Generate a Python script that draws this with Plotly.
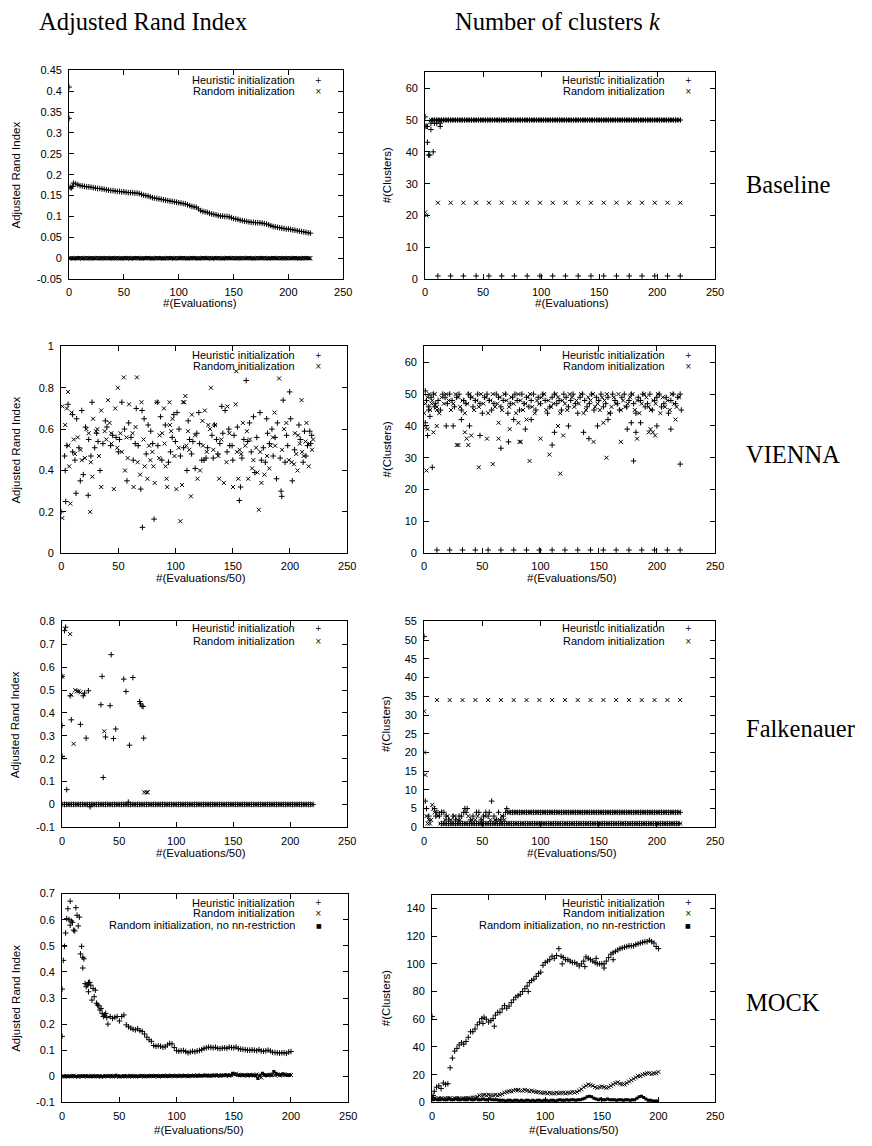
import plotly.graph_objects as go

# ---------------- DATA ----------------
X_TICKS = [0, 50, 100, 150, 200, 250]
X_TICK_TEXT = ["0", "50", "100", "150", "200", "250"]
SPARSE_X = [11, 22, 33, 44, 55, 66, 77, 88, 99, 110, 121, 132, 143, 154, 165, 176, 187, 198, 209, 220]

# --- Baseline, ARI ---
b_ari_heur_init_x = [0, 0, 1, 2, 3]
b_ari_heur_init_y = [0.41, 0.335, 0.170, 0.168, 0.172]
b_ari_heur_dense = [  # x = 4..220 step 2
    0.180, 0.178, 0.176, 0.174, 0.173, 0.172, 0.171, 0.171, 0.170, 0.169,
    0.168, 0.167, 0.167, 0.166, 0.165, 0.164, 0.163, 0.162, 0.162, 0.161,
    0.160, 0.160, 0.159, 0.159, 0.158, 0.157, 0.157, 0.157, 0.156, 0.156,
    0.155, 0.153, 0.151, 0.150, 0.149, 0.147, 0.145, 0.144, 0.143, 0.142,
    0.141, 0.140, 0.139, 0.138, 0.137, 0.136, 0.135, 0.134, 0.133, 0.132,
    0.131, 0.130, 0.128, 0.126, 0.124, 0.123, 0.122, 0.118, 0.114, 0.112,
    0.111, 0.110, 0.108, 0.106, 0.105, 0.104, 0.102, 0.101, 0.101, 0.100,
    0.100, 0.099, 0.097, 0.095, 0.094, 0.093, 0.091, 0.090, 0.089, 0.088,
    0.087, 0.086, 0.086, 0.085, 0.085, 0.085, 0.084, 0.083, 0.082, 0.080,
    0.078, 0.076, 0.075, 0.074, 0.073, 0.072, 0.071, 0.070, 0.070, 0.069,
    0.068, 0.067, 0.066, 0.065, 0.064, 0.063, 0.062, 0.061, 0.060]
b_ari_rand = [  # x = 0..220 step 2
    0.000, 0.001, -0.001, 0.000, 0.000, 0.001, -0.001, 0.000, 0.001, 0.000,
    -0.001, 0.000, 0.000, 0.001, 0.000, -0.001, 0.000, 0.001, 0.000, 0.000,
    -0.001, 0.000, 0.001, 0.000, -0.001, 0.000, 0.000, 0.001, -0.001, 0.000,
    0.000, 0.001, 0.000, -0.001, 0.000, 0.000, 0.001, 0.000, -0.001, 0.000,
    0.001, 0.000, 0.000, -0.001, 0.000, 0.001, 0.000, 0.000, -0.001, 0.001,
    0.000, 0.000, 0.001, 0.000, -0.001, 0.000, 0.001, 0.000, 0.000, -0.001,
    0.000, 0.001, 0.000, 0.000, 0.001, -0.001, 0.000, 0.000, 0.001, 0.000,
    -0.001, 0.000, 0.001, 0.000, 0.000, 0.001, 0.000, -0.001, 0.000, 0.001,
    0.000, 0.000, 0.001, 0.000, -0.001, 0.000, 0.001, 0.000, 0.000, 0.001,
    0.000, -0.001, 0.000, 0.001, 0.000, 0.000, 0.001, 0.000, -0.001, 0.000,
    0.001, 0.000, 0.000, 0.001, 0.000, -0.001, 0.000, 0.001, 0.000, 0.000,
    0.000]
b_ari_rand_odd = [  # x = 1..219 step 2
    0, 0, 0, 0, 0, 0, 0, 0, 0, 0, 0, 0, 0, 0, 0, 0, 0, 0, 0, 0, 0, 0,
    0, 0, 0, 0, 0, 0, 0, 0, 0, 0, 0, 0, 0, 0, 0, 0, 0, 0, 0, 0, 0, 0,
    0, 0, 0, 0, 0, 0, 0, 0, 0, 0, 0, 0, 0, 0, 0, 0, 0, 0, 0, 0, 0, 0,
    0, 0, 0, 0, 0, 0, 0, 0, 0, 0, 0, 0, 0, 0, 0, 0, 0, 0, 0, 0, 0, 0,
    0, 0, 0, 0, 0, 0, 0, 0, 0, 0, 0, 0, 0, 0, 0, 0, 0, 0, 0, 0, 0, 0]

# --- Baseline, k ---
b_k_heur_init_x = [0, 0, 1, 2, 2, 3, 4, 5, 5, 7, 8, 10, 13, 13]
b_k_heur_init_y = [51, 48, 48, 48, 43, 39, 39, 49, 47, 40, 49, 49, 48, 49]
b_k_heur_dense = [  # x = 6..220 step 2
    50, 50, 50, 50, 50, 50, 50, 50, 50, 50, 50, 50, 50, 50, 50, 50, 50, 50,
    50, 50, 50, 50, 50, 50, 50, 50, 50, 50, 50, 50, 50, 50, 50, 50, 50, 50,
    50, 50, 50, 50, 50, 50, 50, 50, 50, 50, 50, 50, 50, 50, 50, 50, 50, 50,
    50, 50, 50, 50, 50, 50, 50, 50, 50, 50, 50, 50, 50, 50, 50, 50, 50, 50,
    50, 50, 50, 50, 50, 50, 50, 50, 50, 50, 50, 50, 50, 50, 50, 50, 50, 50,
    50, 50, 50, 50, 50, 50, 50, 50, 50, 50, 50, 50, 50, 50, 50, 50, 50, 50]
b_k_rand_dense = [  # x = 5..219 step 2
    50, 50, 50, 50, 50, 50, 50, 50, 50, 50, 50, 50, 50, 50, 50, 50, 50, 50,
    50, 50, 50, 50, 50, 50, 50, 50, 50, 50, 50, 50, 50, 50, 50, 50, 50, 50,
    50, 50, 50, 50, 50, 50, 50, 50, 50, 50, 50, 50, 50, 50, 50, 50, 50, 50,
    50, 50, 50, 50, 50, 50, 50, 50, 50, 50, 50, 50, 50, 50, 50, 50, 50, 50,
    50, 50, 50, 50, 50, 50, 50, 50, 50, 50, 50, 50, 50, 50, 50, 50, 50, 50,
    50, 50, 50, 50, 50, 50, 50, 50, 50, 50, 50, 50, 50, 50, 50, 50, 50, 50]
b_k_heur_sparse = [1, 1, 1, 1, 1, 1, 1, 1, 1, 1, 1, 1, 1, 1, 1, 1, 1, 1, 1, 1]
b_k_rand_init_x = [0, 1]
b_k_rand_init_y = [21, 20]
b_k_rand_sparse = [24, 24, 24, 24, 24, 24, 24, 24, 24, 24, 24, 24, 24, 24, 24, 24, 24, 24, 24, 24]

# --- VIENNA, ARI (x, y) ---
v_ari_heur = [
    (0, 0.20), (3, 0.47), (3.5, 0.40), (4, 0.25), (6, 0.72), (10, 0.67), (10, 0.49), (13, 0.29),
    (13.5, 0.65), (15.5, 0.51), (16.7, 0.35), (18, 0.69), (19.3, 0.38), (21.3, 0.61), (23.6, 0.28),
    (24, 0.55), (27, 0.73), (29.3, 0.51), (32.2, 0.54), (34, 0.40), (36.5, 0.53), (38.6, 0.64),
    (43.2, 0.52), (48, 0.56), (51, 0.55), (53, 0.73), (55.3, 0.60), (57.5, 0.35), (61, 0.56),
    (64.7, 0.53), (65.6, 0.70), (67.3, 0.52), (69.6, 0.31), (70.7, 0.69), (71, 0.125), (72.5, 0.65),
    (74.3, 0.48), (78.3, 0.59), (81.2, 0.165), (84, 0.73), (84.5, 0.52), (86.9, 0.66), (93.8, 0.44),
    (95.5, 0.49), (98.4, 0.67), (99.8, 0.54), (101.3, 0.68), (104.2, 0.47), (109.9, 0.40),
    (112.2, 0.55), (115.1, 0.54), (117.1, 0.41), (118.6, 0.58), (120.3, 0.68), (122.9, 0.45),
    (124.9, 0.45), (126.6, 0.46), (131.8, 0.57), (132.9, 0.46), (135.8, 0.55), (138.7, 0.53),
    (140.4, 0.71), (141.3, 0.58), (143.3, 0.69), (146.5, 0.60), (147.3, 0.52), (149.4, 0.52),
    (151.1, 0.57), (155.7, 0.255), (156.8, 0.32), (159.7, 0.55), (161.7, 0.835), (164.6, 0.63),
    (166.1, 0.49), (168.1, 0.66), (169.2, 0.39), (173.8, 0.68), (176.7, 0.51), (178.4, 0.44),
    (179.6, 0.65), (180.4, 0.58), (184.2, 0.60), (185.3, 0.47), (188.2, 0.36), (189, 0.63),
    (191.4, 0.46), (192.2, 0.30), (192.8, 0.275), (194, 0.74), (195.7, 0.44), (198, 0.52),
    (199.7, 0.78), (200.6, 0.65), (202, 0.35), (207.8, 0.62), (211.5, 0.44), (212.7, 0.59),
    (215.3, 0.52), (217.3, 0.59), (218.1, 0.53),
    (5, 0.52), (12, 0.45), (26, 0.47), (31, 0.58), (40, 0.61), (45, 0.57), (50, 0.49), (59, 0.63),
    (63, 0.45), (76, 0.62), (80, 0.53), (88, 0.45), (91, 0.62), (97, 0.56), (103, 0.60), (107, 0.51),
    (111, 0.64), (114, 0.48), (121, 0.53), (128, 0.51), (134, 0.62), (137, 0.48), (145, 0.49),
    (150, 0.45), (154, 0.61), (158, 0.46), (163, 0.54), (171, 0.56), (175, 0.45), (182, 0.53),
    (187, 0.56), (197, 0.57), (204, 0.50), (209, 0.55), (214, 0.47), (219, 0.57)]
v_ari_rand = [
    (1, 0.17), (1, 0.71), (3.5, 0.62), (5, 0.70), (6, 0.78), (6.3, 0.52), (7, 0.42), (8, 0.24),
    (9, 0.68), (12, 0.48), (14.5, 0.56), (18, 0.45), (20.7, 0.46), (22, 0.60), (25.3, 0.20),
    (25.9, 0.44), (27.3, 0.37), (27.9, 0.65), (30.5, 0.59), (31.6, 0.60), (35, 0.69), (35, 0.32),
    (38, 0.59), (39.4, 0.55), (40.9, 0.74), (42.3, 0.63), (43.7, 0.58), (46, 0.31), (47.2, 0.70),
    (49, 0.51), (49.5, 0.80), (51.8, 0.58), (54.7, 0.85), (55.8, 0.40), (58.1, 0.46), (59.3, 0.72),
    (62.4, 0.58), (63.3, 0.32), (66.2, 0.85), (66.8, 0.44), (69, 0.38), (70.2, 0.73), (73, 0.42),
    (75.4, 0.36), (76.8, 0.52), (79.7, 0.49), (80.6, 0.42), (81.7, 0.34), (83.6, 0.73), (85.7, 0.46),
    (88.3, 0.58), (89.8, 0.70), (90.4, 0.53), (91.2, 0.42), (92.1, 0.36), (92.7, 0.32), (94.7, 0.73),
    (96.1, 0.59), (97.3, 0.65), (100.7, 0.31), (102.7, 0.51), (104.2, 0.155), (105.6, 0.33),
    (106.5, 0.73), (107.6, 0.73), (108.5, 0.76), (109.4, 0.52), (110.8, 0.59), (113.4, 0.275),
    (114.2, 0.67), (119.1, 0.36), (121.4, 0.40), (123.5, 0.64), (125.5, 0.69), (127.2, 0.49),
    (128.6, 0.62), (130.1, 0.60), (130.9, 0.80), (134.4, 0.62), (137.3, 0.47), (138.1, 0.36),
    (142.2, 0.34), (144.5, 0.44), (145.3, 0.71), (150.2, 0.32), (152.5, 0.72), (153.1, 0.88),
    (153.7, 0.49), (154.8, 0.36), (157.4, 0.48), (158.8, 0.63), (160.9, 0.52), (162.3, 0.59),
    (163.5, 0.36), (166.9, 0.41), (170.4, 0.51), (171.5, 0.39), (172.7, 0.21), (175, 0.34),
    (177.6, 0.38), (181.9, 0.41), (183, 0.52), (186.5, 0.68), (187, 0.52), (190.5, 0.845),
    (194.8, 0.60), (196.8, 0.63), (201.4, 0.44), (203.5, 0.43), (204.3, 0.58), (205.5, 0.48),
    (206.6, 0.40), (208.6, 0.53), (210.1, 0.74), (210.6, 0.49), (213.5, 0.54), (214.4, 0.63),
    (216.4, 0.42), (219.3, 0.50), (220.2, 0.55),
    (11, 0.55), (17, 0.50), (24, 0.58), (33, 0.47), (44, 0.53), (53, 0.49), (57, 0.56), (65, 0.61),
    (72, 0.55), (78, 0.45), (86, 0.57), (95, 0.62), (99, 0.47), (112, 0.50), (117, 0.57), (124, 0.52),
    (133, 0.50), (140, 0.55), (147, 0.58), (156, 0.50), (165, 0.55), (168, 0.45), (174, 0.49),
    (180, 0.47), (185, 0.56), (193, 0.50), (199, 0.45), (207, 0.57), (212, 0.47), (217, 0.53)]

# --- VIENNA, k ---
v_k_heur_band = [  # x = 2..220 step 2
    48, 46, 49, 50, 47, 48, 45, 50, 49, 47, 50, 48, 46, 49, 50, 45, 48, 47, 50, 49,
    46, 48, 50, 47, 44, 49, 50, 48, 45, 47, 50, 49, 46, 48, 50, 44, 47, 49, 50, 48,
    45, 50, 47, 49, 46, 48, 50, 45, 49, 47, 50, 48, 44, 46, 49, 50, 47, 48, 45, 50,
    49, 46, 48, 50, 47, 44, 49, 50, 48, 46, 47, 50, 45, 49, 48, 50, 46, 47, 49, 44,
    50, 48, 47, 45, 49, 50, 46, 48, 50, 47, 44, 49, 48, 50, 46, 47, 50, 45, 48, 49,
    50, 46, 47, 49, 44, 48, 50, 47, 49, 50]
v_k_rand_band = [  # x = 1..219 step 2
    47, 49, 45, 48, 50, 46, 44, 49, 47, 50, 48, 45, 47, 50, 49, 46, 48, 44, 47, 50,
    49, 45, 48, 46, 50, 47, 49, 44, 48, 50, 46, 47, 49, 45, 50, 48, 46, 49, 47, 44,
    50, 48, 45, 47, 49, 50, 46, 44, 48, 47, 49, 50, 45, 48, 46, 47, 50, 49, 44, 48,
    47, 45, 50, 49, 46, 48, 47, 50, 44, 45, 49, 48, 50, 46, 47, 45, 49, 48, 50, 44,
    46, 49, 47, 50, 45, 48, 46, 47, 49, 50, 45, 48, 44, 47, 50, 49, 46, 45, 48, 47,
    50, 44, 49, 46, 48, 45, 50, 47, 46, 49]
v_k_heur_out = [
    (1, 51), (1, 41), (3, 37), (4, 45), (5, 43), (7, 27), (9, 46), (19, 40), (25, 40), (32, 42),
    (39, 40), (48, 37), (66, 33), (72.5, 35), (77, 42), (87, 39), (92, 42), (110, 34), (112, 38),
    (124, 40), (137, 38), (141.6, 36), (149, 40), (158, 42), (174.5, 39), (178, 41), (180, 29),
    (182, 38), (186, 41), (200, 40), (212, 39), (220, 28), (221, 45)]
v_k_rand_out = [
    (0, 44), (1.5, 39.5), (2, 26), (3, 39), (4.5, 50), (6.5, 47), (8, 38), (10.8, 40), (11, 45),
    (28, 34), (29.5, 34), (35, 38), (36.5, 36), (38, 34), (40.5, 37), (47, 27), (54, 36), (59, 28),
    (64, 36), (64, 41), (73.5, 39), (81, 41), (82, 35), (83, 35), (88, 42), (90.6, 29), (100, 36),
    (107.6, 31), (115, 40), (117, 25), (119.5, 37), (145.6, 35), (154, 41), (156.7, 30), (169, 35),
    (183, 36), (193, 38), (194.5, 39), (196.5, 38), (198.5, 37), (216, 42)]
v_k_heur_sparse = [1, 1, 1, 1, 1, 1, 1, 1, 1, 1, 1, 1, 1, 1, 1, 1, 1, 1, 1, 1]

# --- Falkenauer, ARI ---
f_ari_heur_pts = [
    (0, 0.56), (0, 0.345), (0, 0.21), (2, 0.76), (3, 0.775), (4, 0.065), (7, 0.475), (8, 0.37),
    (16, 0.35), (18.5, 0.475), (19.6, 0.487), (21, 0.29), (23, 0.497), (24.5, -0.01), (34, 0.436),
    (35, 0.56), (36, 0.118), (38, 0.295), (42, 0.432), (43, 0.655), (45, 0.288), (47, 0.33),
    (54, 0.548), (56, 0.494), (58, 0.01), (59, 0.259), (62, 0.555), (68, 0.45), (68.7, 0.44),
    (70, 0.43), (71, 0.428), (71.5, 0.29)]
f_ari_rand_pts = [
    (0, 0.56), (0, 0.205), (7, 0.745), (8, 0.48), (10, 0.265), (11.5, 0.50), (13, 0.495),
    (14.4, 0.495), (16, 0.49), (37, 0.32), (72, 0.053), (74, 0.053), (75, 0.053)]
f_ari_heur_zero = [  # x = 0..220 step 2
    0, 0, 0, 0, 0, 0, 0, 0, 0, 0, 0, 0, 0, 0, 0, 0, 0, 0, 0, 0, 0, 0, 0, 0, 0, 0, 0, 0, 0, 0,
    0, 0, 0, 0, 0, 0, 0, 0, 0, 0, 0, 0, 0, 0, 0, 0, 0, 0, 0, 0, 0, 0, 0, 0, 0, 0, 0, 0, 0, 0,
    0, 0, 0, 0, 0, 0, 0, 0, 0, 0, 0, 0, 0, 0, 0, 0, 0, 0, 0, 0, 0, 0, 0, 0, 0, 0, 0, 0, 0, 0,
    0, 0, 0, 0, 0, 0, 0, 0, 0, 0, 0, 0, 0, 0, 0, 0, 0, 0, 0, 0, 0]
f_ari_rand_zero = [  # x = 1..219 step 2
    0, 0, 0, 0, 0, 0, 0, 0, 0, 0, 0, 0, 0, 0, 0, 0, 0, 0, 0, 0, 0, 0, 0, 0, 0, 0, 0, 0, 0, 0,
    0, 0, 0, 0, 0, 0, 0, 0, 0, 0, 0, 0, 0, 0, 0, 0, 0, 0, 0, 0, 0, 0, 0, 0, 0, 0, 0, 0, 0, 0,
    0, 0, 0, 0, 0, 0, 0, 0, 0, 0, 0, 0, 0, 0, 0, 0, 0, 0, 0, 0, 0, 0, 0, 0, 0, 0, 0, 0, 0, 0,
    0, 0, 0, 0, 0, 0, 0, 0, 0, 0, 0, 0, 0, 0, 0, 0, 0, 0, 0, 0]

# --- Falkenauer, k ---
f_k_heur_init_x = [0, 1, 2, 4, 9, 10, 11, 13, 15, 17, 19, 21, 25, 27, 30, 32, 34, 35, 36, 37,
                   40, 42, 45, 47, 49, 51, 53, 55, 56, 58, 60, 62, 64, 66, 68, 70, 71]
f_k_heur_init_y = [51, 7, 5, 3, 5, 3, 4, 3, 4, 4, 3, 2, 3, 2, 3, 3, 4, 5, 4, 5,
                   2, 3, 4, 4, 2, 3, 4, 3, 4, 7, 3, 2, 4, 2, 3, 4, 5]
f_k_heur_four = [  # x = 72..220 step 2
    4, 4, 4, 4, 4, 4, 4, 4, 4, 4, 4, 4, 4, 4, 4, 4, 4, 4, 4, 4, 4, 4, 4, 4, 4,
    4, 4, 4, 4, 4, 4, 4, 4, 4, 4, 4, 4, 4, 4, 4, 4, 4, 4, 4, 4, 4, 4, 4, 4, 4,
    4, 4, 4, 4, 4, 4, 4, 4, 4, 4, 4, 4, 4, 4, 4, 4, 4, 4, 4, 4, 4, 4, 4, 4, 4]
f_k_rand_four = [  # x = 73..219 step 2
    4, 4, 4, 4, 4, 4, 4, 4, 4, 4, 4, 4, 4, 4, 4, 4, 4, 4, 4, 4, 4, 4, 4, 4, 4,
    4, 4, 4, 4, 4, 4, 4, 4, 4, 4, 4, 4, 4, 4, 4, 4, 4, 4, 4, 4, 4, 4, 4, 4, 4,
    4, 4, 4, 4, 4, 4, 4, 4, 4, 4, 4, 4, 4, 4, 4, 4, 4, 4, 4, 4, 4, 4, 4, 4]
f_k_rand_init_x = [0, 0, 1, 2, 3, 4, 5, 6, 7, 8, 9, 12, 14, 18, 20, 23, 26, 29, 31, 38,
                   41, 44, 46, 50, 52, 57, 61, 65, 67, 69]
f_k_rand_init_y = [31, 20, 14, 3, 1, 2, 1, 2, 6, 5, 4, 3, 4, 2, 3, 2, 3, 2, 2, 3,
                   2, 2, 3, 2, 3, 2, 2, 2, 3, 2]
f_k_rand_one = [  # x = 14..220 step 2
    1, 1, 1, 1, 1, 1, 1, 1, 1, 1, 1, 1, 1, 1, 1, 1, 1, 1, 1, 1, 1, 1, 1, 1, 1, 1,
    1, 1, 1, 1, 1, 1, 1, 1, 1, 1, 1, 1, 1, 1, 1, 1, 1, 1, 1, 1, 1, 1, 1, 1, 1, 1,
    1, 1, 1, 1, 1, 1, 1, 1, 1, 1, 1, 1, 1, 1, 1, 1, 1, 1, 1, 1, 1, 1, 1, 1, 1, 1,
    1, 1, 1, 1, 1, 1, 1, 1, 1, 1, 1, 1, 1, 1, 1, 1, 1, 1, 1, 1, 1, 1, 1, 1, 1, 1]
f_k_heur_one = [  # x = 15..219 step 2
    1, 1, 1, 1, 1, 1, 1, 1, 1, 1, 1, 1, 1, 1, 1, 1, 1, 1, 1, 1, 1, 1, 1, 1, 1, 1,
    1, 1, 1, 1, 1, 1, 1, 1, 1, 1, 1, 1, 1, 1, 1, 1, 1, 1, 1, 1, 1, 1, 1, 1, 1, 1,
    1, 1, 1, 1, 1, 1, 1, 1, 1, 1, 1, 1, 1, 1, 1, 1, 1, 1, 1, 1, 1, 1, 1, 1, 1, 1,
    1, 1, 1, 1, 1, 1, 1, 1, 1, 1, 1, 1, 1, 1, 1, 1, 1, 1, 1, 1, 1, 1, 1, 1, 1]
f_k_rand_sparse = [34, 34, 34, 34, 34, 34, 34, 34, 34, 34, 34, 34, 34, 34, 34, 34, 34, 34, 34, 34]

# --- MOCK, ARI ---
m_ari_heur_init_x = [0, 0, 1, 2, 3, 4, 5, 6, 7, 7, 8, 9, 10, 11, 12, 13, 14, 15, 16, 17,
                     18, 18, 19, 20, 21, 22, 23, 23, 24, 25, 26, 27, 28, 29, 30, 31, 32, 33, 34, 35,
                     36, 37, 38, 39]
m_ari_heur_init_y = [0.153, 0.334, 0.444, 0.498, 0.549, 0.604, 0.642, 0.60, 0.671, 0.579,
                     0.595, 0.59, 0.560, 0.557, 0.646, 0.617, 0.576, 0.61, 0.469, 0.498,
                     0.456, 0.415, 0.45, 0.355, 0.343, 0.35, 0.359, 0.324, 0.36, 0.349,
                     0.292, 0.336, 0.305, 0.33, 0.280, 0.273, 0.27, 0.254, 0.26, 0.241,
                     0.229, 0.235, 0.241, 0.225]
m_ari_heur_dense = [  # x = 40..200 step 2
    0.200, 0.229, 0.222, 0.226, 0.229, 0.212, 0.229, 0.235, 0.197, 0.190,
    0.185, 0.180, 0.178, 0.182, 0.175, 0.172, 0.162, 0.150, 0.140, 0.134,
    0.118, 0.115, 0.117, 0.115, 0.112, 0.113, 0.120, 0.126, 0.124, 0.110,
    0.098, 0.096, 0.098, 0.099, 0.095, 0.090, 0.093, 0.096, 0.094, 0.097,
    0.099, 0.102, 0.107, 0.109, 0.112, 0.111, 0.109, 0.111, 0.107, 0.106,
    0.108, 0.109, 0.107, 0.112, 0.110, 0.109, 0.112, 0.106, 0.104, 0.103,
    0.102, 0.100, 0.100, 0.101, 0.100, 0.098, 0.102, 0.097, 0.096, 0.098,
    0.100, 0.097, 0.092, 0.091, 0.090, 0.089, 0.090, 0.090, 0.088, 0.093,
    0.095]
m_ari_rand = [  # x = 0..200 step 2
    0.000, -0.002, 0.001, 0.000, -0.001, 0.002, 0.000, -0.002, 0.001, 0.000,
    0.001, -0.001, 0.000, 0.002, -0.001, 0.000, 0.001, -0.002, 0.000, 0.001,
    0.000, 0.002, -0.001, 0.000, 0.001, -0.002, 0.000, 0.001, 0.000, -0.001,
    0.002, 0.000, -0.001, 0.001, 0.000, 0.002, -0.001, 0.000, 0.001, 0.002,
    0.000, 0.001, -0.001, 0.002, 0.000, 0.001, 0.003, 0.000, 0.002, 0.001,
    0.002, 0.000, 0.003, 0.001, 0.002, 0.000, 0.003, 0.001, 0.002, 0.004,
    0.001, 0.003, 0.002, 0.004, 0.001, 0.003, 0.002, 0.004, 0.003, 0.002,
    0.004, 0.003, 0.005, 0.002, 0.004, 0.008, 0.010, 0.006, 0.004, 0.003,
    0.005, 0.002, 0.006, 0.004, 0.003, 0.007, 0.002, -0.005, 0.004, 0.006,
    0.003, 0.005, 0.008, 0.004, 0.006, 0.003, 0.005, 0.007, 0.004, 0.006,
    0.005]
m_ari_nonn = [  # x = 1..199 step 2
    0.000, 0.001, -0.001, 0.000, 0.001, 0.000, -0.001, 0.001, 0.000, 0.000,
    0.001, 0.000, -0.001, 0.000, 0.001, 0.000, 0.000, -0.001, 0.001, 0.000,
    0.000, 0.001, 0.000, 0.004, 0.000, 0.000, -0.001, 0.001, 0.000, 0.001,
    0.000, 0.001, 0.000, -0.001, 0.002, 0.000, 0.001, 0.000, 0.002, 0.001,
    0.001, 0.002, 0.000, 0.001, 0.002, 0.001, 0.000, 0.003, 0.001, 0.002,
    0.001, 0.002, 0.001, 0.003, 0.002, 0.001, 0.002, 0.003, 0.001, 0.002,
    0.003, 0.002, 0.004, 0.003, 0.002, 0.004, 0.003, 0.005, 0.002, 0.004,
    0.003, 0.005, 0.003, 0.004, 0.012, 0.008, 0.005, 0.003, 0.006, 0.004,
    0.005, 0.003, 0.006, 0.004, 0.002, -0.008, 0.004, 0.012, 0.005, 0.003,
    0.006, 0.004, 0.018, 0.012, 0.008, 0.005, 0.010, 0.006, 0.004, 0.005]

# --- MOCK, k ---
m_k_heur_extra = [(0, 62), (0, 3.5), (1, 5), (45, 57), (55, 55), (85, 80), (115, 100), (135, 98),
                  (145, 104), (152, 97), (160, 103)]
m_k_heur_dense = [  # x = 2..200 step 2
    8, 11, 12, 10, 14, 13, 13.5, 25, 32, 37,
    39, 41.5, 43, 42, 44, 47, 51, 51, 53, 56,
    58, 60.5, 61.5, 60, 58, 59, 60.5, 63, 65, 65,
    67.5, 70, 68, 69.5, 72, 74, 76, 77, 78, 80,
    82, 84, 86.5, 88, 89, 91, 93, 94, 99, 101,
    102, 103, 105.5, 104, 106, 111, 105.5, 104.5, 103, 103,
    102, 101, 101, 100, 98.5, 100, 102, 105, 104, 103,
    102, 101, 100, 100, 100, 100, 102, 104.5, 107, 108,
    109, 110, 111, 111.5, 112, 112.5, 113, 113, 113, 114,
    114.5, 115, 115.5, 116, 116, 117, 116, 115, 112.5, 111]
m_k_rand = [  # x = 0..200 step 2
    3, 3, 2.5, 3, 3, 2.5, 3, 3, 3, 2.5,
    3, 3, 3, 2.5, 3, 3, 3, 3, 3.5, 3.5,
    4, 5, 5, 5.5, 5, 5.5, 5, 5, 5.5, 5,
    5.5, 6, 7, 7.5, 8, 8, 8.5, 9, 9, 8.5,
    8.5, 9, 8.5, 8, 8.5, 8, 7.5, 7.5, 7, 7,
    7, 6.5, 7, 6.5, 6.5, 7, 6.5, 7, 7, 6.5,
    7, 7, 7.5, 7, 7.5, 8.5, 9.5, 11, 12, 13,
    12.5, 12, 11, 10.5, 11, 11.5, 11, 10.5, 11, 12,
    13, 14, 14.5, 13.5, 13, 13, 14, 15, 16, 17,
    18, 19, 19, 20, 20.5, 21, 21, 20.5, 21, 21,
    22]
m_k_nonn = [  # x = 1..199 step 2
    2, 2.5, 2, 2, 2.5, 2, 2, 2.5, 2, 2,
    2.5, 2, 2, 2.5, 2, 2, 2.5, 2, 2, 2.5,
    2, 2, 2.5, 2, 2, 2.5, 2, 2, 2, 1.5,
    1.5, 1.5, 1, 1.5, 1.5, 1, 1.5, 1.5, 1, 1.5,
    1, 1.5, 1.5, 1, 1.5, 1, 1.5, 1.5, 1, 1.5,
    1.5, 1, 1.5, 1.5, 1, 1.5, 2, 1.5, 1.5, 2,
    1.5, 2, 2, 1.5, 2, 2, 2.5, 3, 4, 4.5,
    4, 3, 2.5, 2, 2.5, 2, 2, 2.5, 2, 2,
    2, 1.5, 2, 2, 1.5, 2, 2, 1.5, 2, 2,
    3, 4, 4.5, 3.5, 2.5, 1.5, 1.5, 1, 1, 1]

COL_TITLES = ["Adjusted Rand Index", "Number of clusters <i>k</i>"]
ROW_LABELS = ["Baseline", "VIENNA", "Falkenauer", "MOCK"]
LEG_H = "Heuristic initialization"
LEG_R = "Random initialization"
LEG_N = "Random initialization, no nn-restriction"

# ---------------- LAYOUT HELPERS ----------------
W, H = 872, 1146
def px(x):
    return x / W
def py(y):
    return 1 - y / H

def steps(start, n, step=2):
    return list(range(start, start + step * n, step))

def unzip(pts):
    return [p[0] for p in pts], [p[1] for p in pts]

HEUR = dict(symbol="cross-thin", size=4, color="black", line=dict(width=1, color="black"))
RAND = dict(symbol="x-thin", size=4, color="black", line=dict(width=1, color="black"))
NONN = dict(symbol="square", size=3, color="black", line=dict(width=0))

fig = go.Figure()

def add(panel, x, y, marker):
    ax = "" if panel == 1 else str(panel)
    fig.add_trace(go.Scatter(x=x, y=y, mode="markers", marker=marker, showlegend=False,
                             xaxis="x" + ax, yaxis="y" + ax, hoverinfo="skip"))

# Panel 1: Baseline ARI
add(1, steps(0, len(b_ari_rand)), b_ari_rand, RAND)
add(1, steps(1, len(b_ari_rand_odd)), b_ari_rand_odd, RAND)
add(1, b_ari_heur_init_x, b_ari_heur_init_y, HEUR)
add(1, steps(4, len(b_ari_heur_dense)), b_ari_heur_dense, HEUR)
# Panel 2: Baseline k
add(2, steps(6, len(b_k_heur_dense)), b_k_heur_dense, HEUR)
add(2, steps(5, len(b_k_rand_dense)), b_k_rand_dense, RAND)
add(2, b_k_heur_init_x, b_k_heur_init_y, HEUR)
add(2, SPARSE_X, b_k_heur_sparse, HEUR)
add(2, b_k_rand_init_x, b_k_rand_init_y, RAND)
add(2, SPARSE_X, b_k_rand_sparse, RAND)
# Panel 3: VIENNA ARI
add(3, *unzip(v_ari_heur), HEUR)
add(3, *unzip(v_ari_rand), RAND)
# Panel 4: VIENNA k
add(4, steps(2, len(v_k_heur_band)), v_k_heur_band, HEUR)
add(4, steps(1, len(v_k_rand_band)), v_k_rand_band, RAND)
add(4, *unzip(v_k_heur_out), HEUR)
add(4, *unzip(v_k_rand_out), RAND)
add(4, SPARSE_X, v_k_heur_sparse, HEUR)
# Panel 5: Falkenauer ARI
add(5, steps(0, len(f_ari_heur_zero)), f_ari_heur_zero, HEUR)
add(5, steps(1, len(f_ari_rand_zero)), f_ari_rand_zero, RAND)
add(5, *unzip(f_ari_heur_pts), HEUR)
add(5, *unzip(f_ari_rand_pts), RAND)
# Panel 6: Falkenauer k
add(6, steps(14, len(f_k_rand_one)), f_k_rand_one, RAND)
add(6, steps(15, len(f_k_heur_one)), f_k_heur_one, HEUR)
add(6, steps(72, len(f_k_heur_four)), f_k_heur_four, HEUR)
add(6, steps(73, len(f_k_rand_four)), f_k_rand_four, RAND)
add(6, f_k_heur_init_x, f_k_heur_init_y, HEUR)
add(6, f_k_rand_init_x, f_k_rand_init_y, RAND)
add(6, SPARSE_X, f_k_rand_sparse, RAND)
# Panel 7: MOCK ARI
add(7, steps(1, len(m_ari_nonn)), m_ari_nonn, NONN)
add(7, steps(0, len(m_ari_rand)), m_ari_rand, RAND)
add(7, m_ari_heur_init_x, m_ari_heur_init_y, HEUR)
add(7, steps(40, len(m_ari_heur_dense)), m_ari_heur_dense, HEUR)
# Panel 8: MOCK k
add(8, steps(1, len(m_k_nonn)), m_k_nonn, NONN)
add(8, steps(0, len(m_k_rand)), m_k_rand, RAND)
add(8, steps(2, len(m_k_heur_dense)), m_k_heur_dense, HEUR)
add(8, *unzip(m_k_heur_extra), HEUR)

# panel geometry in pixels: (left, right, top, bottom)
BOXES = {
    1: (67, 345, 65, 276), 2: (428, 722, 67, 276),
    3: (59, 349, 344, 553), 4: (427, 722, 344, 553),
    5: (60, 349, 622, 830), 6: (427, 722, 622, 830),
    7: (60, 350, 897, 1108), 8: (435, 722, 898, 1108),
}
YAX = {
    1: ([-0.05, 0.45], [-0.05, 0, 0.05, 0.1, 0.15, 0.2, 0.25, 0.3, 0.35, 0.4, 0.45],
        ["-0.05", "0", "0.05", "0.1", "0.15", "0.2", "0.25", "0.3", "0.35", "0.4", "0.45"]),
    2: ([0, 65], [0, 10, 20, 30, 40, 50, 60], ["0", "10", "20", "30", "40", "50", "60"]),
    3: ([0, 1], [0, 0.2, 0.4, 0.6, 0.8, 1], ["0", "0.2", "0.4", "0.6", "0.8", "1"]),
    4: ([0, 65], [0, 10, 20, 30, 40, 50, 60], ["0", "10", "20", "30", "40", "50", "60"]),
    5: ([-0.1, 0.8], [-0.1, 0, 0.1, 0.2, 0.3, 0.4, 0.5, 0.6, 0.7, 0.8],
        ["-0.1", "0", "0.1", "0.2", "0.3", "0.4", "0.5", "0.6", "0.7", "0.8"]),
    6: ([0, 55], [0, 5, 10, 15, 20, 25, 30, 35, 40, 45, 50, 55],
        ["0", "5", "10", "15", "20", "25", "30", "35", "40", "45", "50", "55"]),
    7: ([-0.1, 0.7], [-0.1, 0, 0.1, 0.2, 0.3, 0.4, 0.5, 0.6, 0.7],
        ["-0.1", "0", "0.1", "0.2", "0.3", "0.4", "0.5", "0.6", "0.7"]),
    8: ([0, 150], [0, 20, 40, 60, 80, 100, 120, 140], ["0", "20", "40", "60", "80", "100", "120", "140"]),
}
TICKFONT = dict(family="Liberation Sans, Arial, sans-serif", size=11, color="black")
layout = dict(width=W, height=H, margin=dict(l=0, r=0, t=0, b=0),
              paper_bgcolor="white", plot_bgcolor="white", showlegend=False)
for p, (l, r, t, b) in BOXES.items():
    ax = "" if p == 1 else str(p)
    common = dict(showgrid=False, zeroline=False, showline=True, linecolor="black", linewidth=1,
                  mirror="ticks", ticks="inside", ticklen=5, tickwidth=1, tickcolor="black",
                  tickfont=TICKFONT, fixedrange=True)
    layout["xaxis" + ax] = dict(common, domain=[px(l), px(r)], range=[0, 250], tickvals=X_TICKS,
                                ticktext=X_TICK_TEXT, anchor="y" + ax, ticklabelstandoff=3)
    rng, tv, tt = YAX[p]
    layout["yaxis" + ax] = dict(common, domain=[py(b), py(t)], range=rng, tickvals=tv, ticktext=tt,
                                anchor="x" + ax, ticklabelstandoff=4)
fig.update_layout(**layout)

ann = []
LABFONT = dict(family="Liberation Sans, Arial, sans-serif", size=11.5, color="black")
def text(x, y, s, font, xanchor="center", yanchor="middle", angle=0):
    ann.append(dict(x=px(x), y=py(y), xref="paper", yref="paper", text=s, showarrow=False,
                    font=font, xanchor=xanchor, yanchor=yanchor, textangle=angle))

# column titles and row labels
SERIF = dict(family="Liberation Serif, Times New Roman, serif", size=24.5, color="black")
text(142, 16, COL_TITLES[0], SERIF)
text(563, 16, COL_TITLES[1], SERIF)
for lab, yy in zip(ROW_LABELS, [180, 453, 730, 1007]):
    text(751, yy, lab, SERIF, xanchor="left")

# axis titles
XT = ["#(Evaluations)", "#(Evaluations)", "#(Evaluations/50)", "#(Evaluations/50)",
      "#(Evaluations/50)", "#(Evaluations/50)", "#(Evaluations/50)", "#(Evaluations/50)"]
YT = ["Adjusted Rand Index", "#(Clusters)"] * 4
XT_Y = {1: 300, 2: 300, 3: 578, 4: 578, 5: 856, 6: 856, 7: 1136, 8: 1136}
XT_X = {1: 200, 2: 577, 3: 201, 4: 577, 5: 201, 6: 577, 7: 199, 8: 579}
for p, (l, r, t, b) in BOXES.items():
    text(XT_X[p], XT_Y[p], XT[p - 1], LABFONT)
    yx = 13 if p % 2 == 1 else 389
    text(yx, (t + b) / 2, YT[p - 1], LABFONT, angle=-90)

# in-plot keys (gnuplot style: text right, symbol after)
LEGFONT = dict(family="Liberation Sans, Arial, sans-serif", size=11, color="black")
SYMFONT = dict(family="DejaVu Sans, sans-serif", size=8, color="black")
KEYS = {
    1: (298, 320, [75, 86]), 2: (673, 695, [75, 86]),
    3: (298, 320, [353, 364]), 4: (673, 695, [353, 364]),
    5: (298, 320, [629, 642]), 6: (673, 695, [629, 642]),
    7: (298, 320, [906, 917, 929]), 8: (673, 695, [906, 917, 929]),
}
for p, (tx, sx, ys) in KEYS.items():
    labels = [LEG_H, LEG_R, LEG_N][:len(ys)]
    syms = ["+", "×", "■"][:len(ys)]
    for lab, sym, yy in zip(labels, syms, ys):
        text(tx, yy, lab, LEGFONT, xanchor="right")
        f = dict(SYMFONT, size=6) if sym == "■" else SYMFONT
        text(sx, yy, sym, f)

fig.update_layout(annotations=ann)
POST = (
    "document.documentElement.style.margin='0';"
    "document.documentElement.style.padding='0';"
    "document.documentElement.style.overflow='hidden';"
    "document.body.style.margin='0';"
    "document.body.style.padding='0';"
    "document.body.style.overflow='hidden';"
    "var gds=document.getElementsByClassName('plotly-graph-div');"
    "for(var i=0;i<gds.length;i++){var g=gds[i];g.style.position='fixed';"
    "g.style.left='0px';g.style.top='0px';}"
)
fig.write_html("out.html", config={"displayModeBar": False}, post_script=POST)
